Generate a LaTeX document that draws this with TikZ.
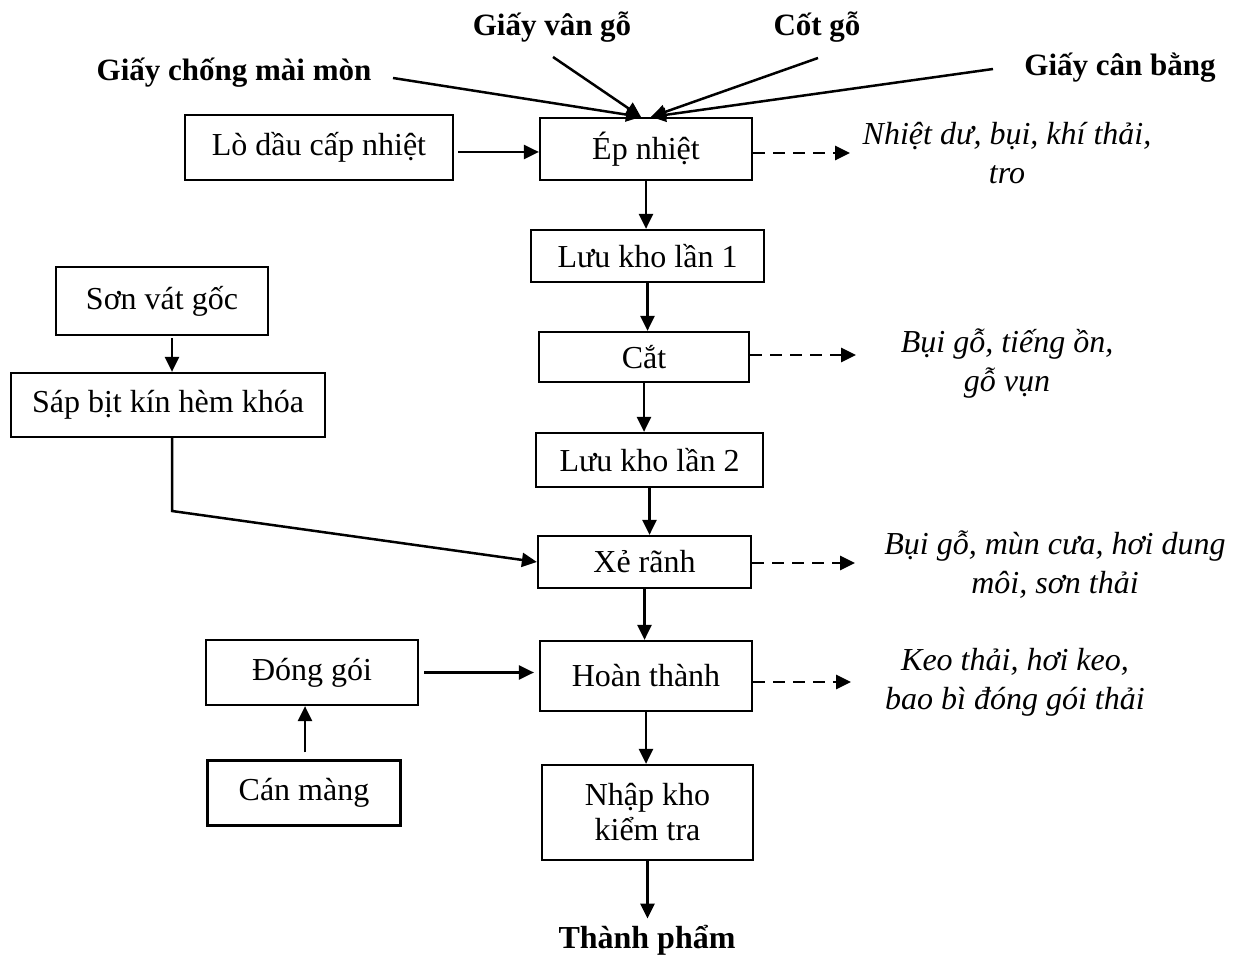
\documentclass[tikz,border=0pt]{standalone}
\usepackage{fontspec}
\setmainfont{Liberation Serif}
\usetikzlibrary{arrows.meta}
\begin{document}
\begin{tikzpicture}[x=0.5pt,y=-0.5pt,
  every node/.style={font=\fontsize{16}{17.5}\selectfont},
  stepbox/.style={draw, line width=1.1pt, inner sep=0pt, align=center},
  input/.style={font=\fontsize{15.5}{18}\selectfont\bfseries, inner sep=1pt},
  waste/.style={font=\fontsize{16}{19.5}\selectfont\itshape, align=center, inner sep=1pt},
  flow/.style={line width=1.25pt, -{Triangle[length=7.5pt,width=7pt]}},
  leak/.style={flow, dash pattern=on 6pt off 4pt}]
\useasboundingbox (0,0) rectangle (1236,956);

% main line
\node[stepbox, minimum width=106pt,   minimum height=31pt]   (ep)   at (646,149)   {Ép nhiệt};
\node[stepbox, minimum width=116.5pt, minimum height=26pt]   (luu1) at (647.5,256) {Lưu kho lần 1};
\node[stepbox, minimum width=105pt,   minimum height=25pt]   (cat)  at (644,357)   {Cắt};
\node[stepbox, minimum width=113.5pt, minimum height=27pt]   (luu2) at (649.5,460) {Lưu kho lần 2};
\node[stepbox, minimum width=106.5pt, minimum height=26pt]   (xe)   at (644.5,562) {Xẻ rãnh};
\node[stepbox, minimum width=106pt,   minimum height=35pt]   (hoan) at (646,676)   {Hoàn thành};
\node[stepbox, minimum width=105.5pt, minimum height=47.5pt] (nhap) at (647.5,812.5) {Nhập kho\\kiểm tra};
\node[input, font=\fontsize{16}{18}\selectfont\bfseries] (tp) at (647,940) {Thành phẩm};

% side steps
\node[stepbox, minimum width=134pt,  minimum height=32.5pt] (lo)   at (319,147.5) {Lò dầu cấp nhiệt};
\node[stepbox, minimum width=106pt,  minimum height=34pt]   (son)  at (162,301)   {Sơn vát gốc};
\node[stepbox, minimum width=157pt,  minimum height=32pt]   (sap)  at (168,405)   {Sáp bịt kín hèm khóa};
\node[stepbox, minimum width=106pt,  minimum height=32.5pt] (dong) at (312,672.5) {Đóng gói};
\node[stepbox, minimum width=96.5pt, minimum height=32.5pt] (can)  at (304,793)   {Cán màng};

% raw materials
\node[input] (gcm) at (234,73)   {Giấy chống mài mòn};
\node[input] (gvg) at (552,27)   {Giấy vân gỗ};
\node[input] (cg)  at (817,27)   {Cốt gỗ};
\node[input] (gcb) at (1120,68)  {Giấy cân bằng};

% outputs
\node[waste] (w1) at (1007,153) {Nhiệt dư, bụi, khí thải,\\tro};
\node[waste] (w2) at (1007,364) {Bụi gỗ, tiếng ồn,\\gỗ vụn};
\node[waste] (w3) at (1055,565) {Bụi gỗ, mùn cưa, hơi dung\\môi, sơn thải};
\node[waste] (w4) at (1015,682) {Keo thải, hơi keo,\\bao bì đóng gói thải};

% feed points
\coordinate (tipL) at ([xshift=-2.5pt]ep.north);
\coordinate (tipR) at ([xshift=2.5pt]ep.north);
\coordinate (s1) at (393,78);
\coordinate (s2) at (553,57);
\coordinate (s3) at (818,58);
\coordinate (s4) at (993,69);
\coordinate (bend) at (172,511);

% material inputs
\draw[flow] (s1) -- (tipL);
\draw[flow] (s2) -- (tipL);
\draw[flow] (s3) -- (tipR);
\draw[flow] (s4) -- (tipR);
\draw[flow, shorten <=2pt] (lo.east |- 0,152) -- (ep.west |- 0,152);

% main flow
\draw[flow] (ep.south)   -- (ep.south |- luu1.north);
\draw[flow] (luu1.south) -- (luu1.south |- cat.north);
\draw[flow] (cat.south)  -- (cat.south |- luu2.north);
\draw[flow] (luu2.south) -- (luu2.south |- xe.north);
\draw[flow] (xe.south)   -- (xe.south |- hoan.north);
\draw[flow] (hoan.south) -- (hoan.south |- nhap.north);
\draw[flow, shorten >=2pt] (nhap.south) -- (nhap.south |- tp.north);

% side flows
\draw[flow, shorten <=1pt] (son.south -| bend) -- (sap.north -| bend);
\draw[flow] (sap.south -| bend) -- (bend) -- (xe.west);
\draw[flow, shorten <=2.5pt, shorten >=2.5pt] (dong.east) -- (hoan.west |- dong.east);
\draw[flow, shorten <=3.5pt] (can.north -| 305,0) -- (dong.south -| 305,0);

% emissions
\draw[leak] (ep.east |- 0,153)  -- ++(97,0);
\draw[leak] (cat.east |- 0,355) -- ++(106,0);
\draw[leak] (xe.east |- 0,563)  -- ++(103,0);
\draw[leak] (hoan.east |- 0,682) -- ++(98,0);
\end{tikzpicture}
\end{document}
